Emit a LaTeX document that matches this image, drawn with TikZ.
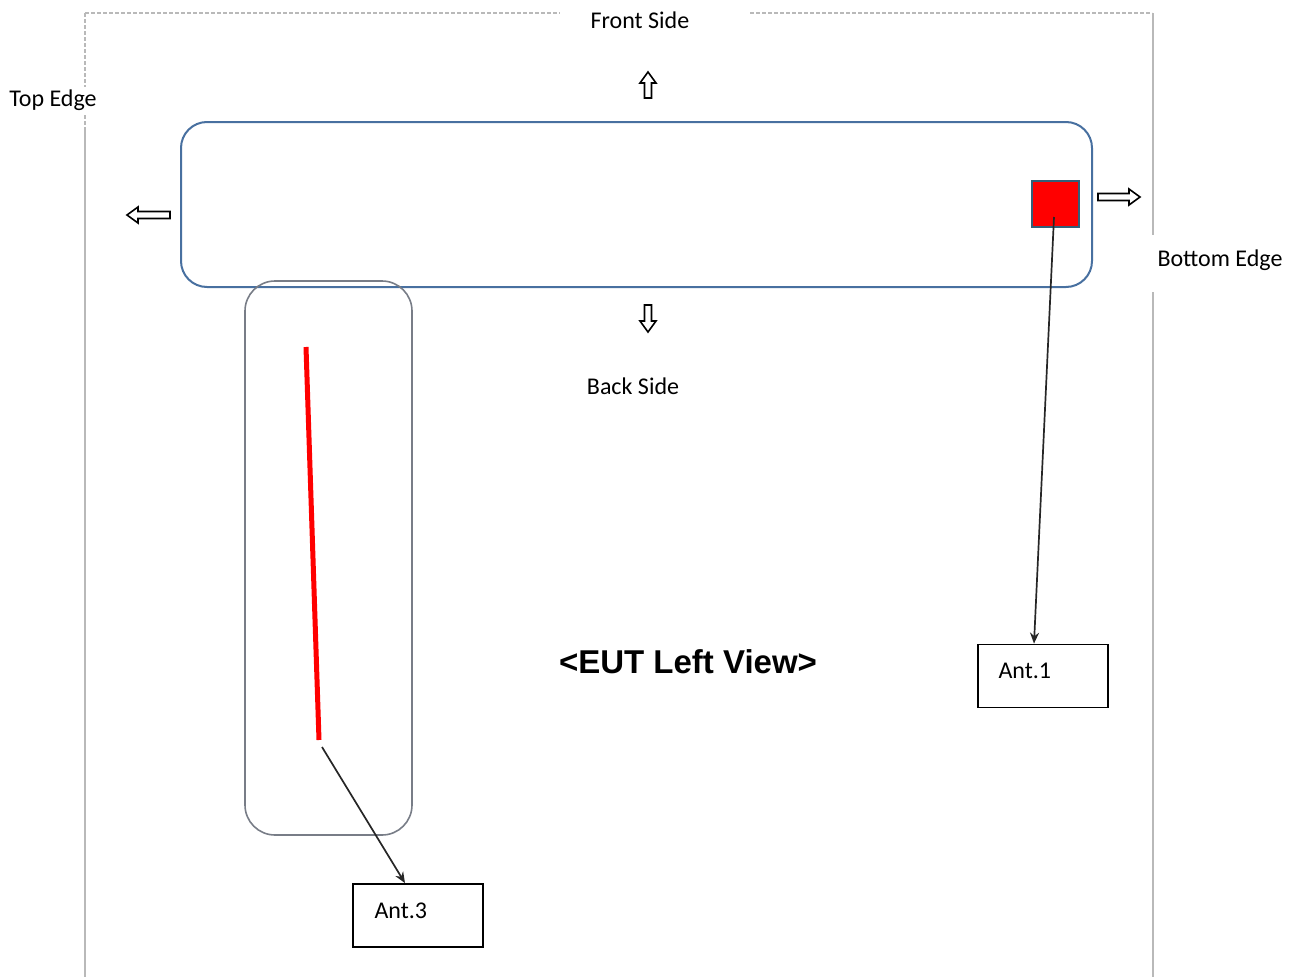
\documentclass[tikz,border=0pt]{standalone}
\usepackage{fontspec}
\setmainfont{Carlito}
\newfontfamily\titlefont{Liberation Sans}
\usetikzlibrary{arrows.meta}
\definecolor{frameblue}{RGB}{72,112,160}
\definecolor{boxgray}{RGB}{120,125,135}
\definecolor{sqedge}{RGB}{50,95,120}
\definecolor{bordergray}{RGB}{185,185,185}
\tikzset{
  lbl/.style={font=\fontsize{24}{28}\selectfont, inner sep=0pt, text=black},
  antbox/.style={draw=black, line width=1.8pt, minimum width=130pt, minimum height=63pt, inner sep=0pt},
  antlabel/.style={font=\fontsize{24}{28}\selectfont},
  conn/.style={draw=black!85, line width=1.7pt, -{Stealth[length=11pt,width=9pt]}},
  blockarrow/.style={draw=black, line width=1.6pt, fill=white, line join=miter},
  barrow/.pic={\path[blockarrow] (0,0) -- (11,8) -- (11,3.5) -- (#1,3.5) -- (#1,-3.5) -- (11,-3.5) -- (11,-8) -- cycle;},
  borderline/.style={draw=bordergray, line width=1.2pt},
}
\begin{document}
\begin{tikzpicture}[x=1pt,y=-1pt]
\useasboundingbox (0,0) rectangle (1299,977);
% outer border
\draw[borderline, dash pattern=on 4pt off 2pt] (85,13) -- (560,13);
\draw[borderline, dash pattern=on 4pt off 2pt] (750,13) -- (1152,13);
\draw[borderline, dash pattern=on 4pt off 2pt] (85,13) -- (85,130);
\draw[borderline] (85,130) -- (85,977);
\draw[borderline] (1153,13) -- (1153,235);
\draw[borderline] (1153,292) -- (1153,977);
% EUT body
\node[draw=frameblue, line width=2pt, rounded corners=26pt, minimum width=911pt, minimum height=165pt, inner sep=0pt] (body) at (636.5,204.5) {};
\node[draw=boxgray, line width=1.6pt, rounded corners=30pt, minimum width=167pt, minimum height=554pt, inner sep=0pt] (stand) at (328.5,558) {};
% antenna 3 (red line)
\coordinate (a3top) at (306,347);
\coordinate (a3bot) at (319,740);
\coordinate (a3tail) at (322,747);
\draw[red, line width=5pt] (a3top) -- (a3bot);
% antenna 1 (red square)
\node[draw=sqedge, fill=red, line width=2pt, minimum width=47pt, minimum height=46pt, inner sep=0pt] (a1sq) at (1055,204) {};
\coordinate (a1tail) at (1054,217);
% antenna boxes
\node[antbox] (ant1) at (1043,676) {};
\node[antlabel, anchor=west] (ant1t) at (995,671) {Ant.1};
\node[antbox] (ant3) at (418,915.5) {};
\node[antlabel, anchor=west] (ant3t) at (371,911) {Ant.3};
% connectors
\draw[conn] (a1tail) -- (ant1.north -| 1034,0);
\draw[conn] (a3tail) -- (ant3.north -| 405,0);
% direction arrows
\pic[rotate=-90] at (648,72) {barrow=26};
\pic[rotate=90] at (648,332) {barrow=27};
\pic at (127,215) {barrow=43};
\pic[rotate=180] at (1140,197) {barrow=42};
% labels
\node[lbl] (front) at (640,20) {Front Side};
\node[lbl] (back) at (633,386) {Back Side};
\node[lbl, fill=white, inner sep=3pt] (top) at (53,100) {Top Edge};
\node[lbl] (bottom) at (1220,260) {Bottom Edge};
\node[font=\titlefont\bfseries\fontsize{33}{38}\selectfont, inner sep=0pt] (title) at (688,662) {<EUT Left View>};
\end{tikzpicture}
\end{document}
